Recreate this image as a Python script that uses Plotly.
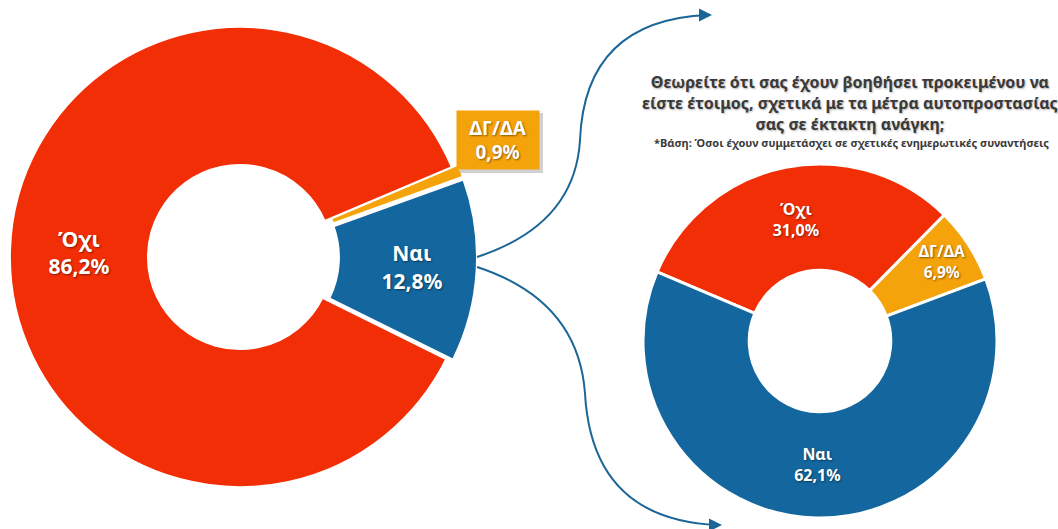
import plotly.graph_objects as go

# left donut: all respondents
main_labels = ['ΔΓ/ΔΑ', 'Ναι', 'Όχι']
main_values = [0.9, 12.8, 86.2]
main_colors = ['#F5A30A', '#13679E', '#F22E06']

# right donut: those who attended briefings
sub_labels = ['Όχι', 'ΔΓ/ΔΑ', 'Ναι']
sub_values = [31.0, 6.9, 62.1]
sub_colors = ['#F22E06', '#F5A30A', '#13679E']

title_lines = ['Θεωρείτε ότι σας έχουν βοηθήσει προκειμένου να',
               'είστε έτοιμος, σχετικά με τα μέτρα αυτοπροστασίας',
               'σας σε έκτακτη ανάγκη;']
base_note = '*Βάση: Όσοι έχουν συμμετάσχει σε σχετικές ενημερωτικές συναντήσεις'

W, H = 1058, 529
FONT = 'Noto Sans'
SHADOW = '1px 1px 2px rgba(0,0,0,0.45)'
ARROW = '#1B6697'


def fmt(v):
    return f'{v:.1f}'.replace('.', ',') + '%'


def dom(cx, cy, r, axis):
    if axis == 'x':
        return [max(0, (cx - r) / W), min(1, (cx + r) / W)]
    return [max(0, (H - cy - r) / H), min(1, (H - cy + r) / H)]


fig = go.Figure()

main_text = [f'{l}<br>{fmt(v)}' if v > 5 else '' for l, v in zip(main_labels, main_values)]
fig.add_trace(go.Pie(
    labels=main_labels, values=main_values, text=main_text,
    textinfo='text', sort=False, direction='clockwise', rotation=67,
    hole=0.4, pull=[0.03, 0.03, 0],
    marker=dict(colors=main_colors, line=dict(color='white', width=2)),
    textposition='inside', insidetextorientation='horizontal',
    textfont=dict(family=FONT, size=21, color='white', weight='bold', shadow=SHADOW),
    domain=dict(x=dom(240, 257, 237, 'x'), y=dom(240, 257, 237, 'y')),
    showlegend=False,
))

sub_text = [f'{l}<br>{fmt(v)}' for l, v in zip(sub_labels, sub_values)]
fig.add_trace(go.Pie(
    labels=sub_labels, values=sub_values, text=sub_text,
    textinfo='text', sort=False, direction='clockwise', rotation=-67,
    hole=0.4,
    marker=dict(colors=sub_colors, line=dict(color='white', width=3)),
    textposition='inside', insidetextorientation='horizontal',
    textfont=dict(family=FONT, size=16, color='white', weight='bold', shadow=SHADOW),
    domain=dict(x=dom(820, 341, 177, 'x'), y=dom(820, 341, 177, 'y')),
    showlegend=False,
))


def px(x, y):
    return f'{x / W:.4f},{1 - y / H:.4f}'


# connector arrows from the "Ναι" slice to the second chart
up_path = f'M {px(477, 257)} Q {px(575, 225)} {px(580, 140)} Q {px(585, 20)} {px(708, 15)}'
down_path = f'M {px(477, 267)} Q {px(578, 300)} {px(585, 393)} Q {px(592, 520)} {px(718, 525)}'
for p in (up_path, down_path):
    fig.add_shape(type='path', path=p, xref='paper', yref='paper',
                  line=dict(color=ARROW, width=2))
for tx, ty in ((712, 15), (722, 525)):
    fig.add_annotation(x=tx / W, y=1 - ty / H, xref='paper', yref='paper',
                       ax=-12, ay=0, text='', showarrow=True,
                       arrowhead=2, arrowsize=1.3, arrowwidth=2, arrowcolor=ARROW)

# callout box for the tiny slice
fig.add_shape(type='rect', xref='paper', yref='paper',
              x0=460 / W, x1=543 / W, y0=1 - 173 / H, y1=1 - 113 / H,
              fillcolor='rgba(0,0,0,0.18)', line=dict(width=0), layer='above')
fig.add_annotation(x=498 / W, y=1 - 140 / H, xref='paper', yref='paper',
                   xanchor='center', yanchor='middle',
                   text=f'{main_labels[0]}<br>{fmt(main_values[0])}', showarrow=False,
                   bgcolor=main_colors[0], width=78, height=54, borderpad=2,
                   font=dict(family=FONT, size=19, color='white', weight='bold', shadow=SHADOW))

fig.add_annotation(x=850 / W, y=1 - 103 / H, xref='paper', yref='paper',
                   xanchor='center', yanchor='middle',
                   text='<br>'.join(title_lines), showarrow=False, align='center',
                   font=dict(family=FONT, size=16, color='#3A3A3A', weight='bold',
                             shadow='1px 1px 2px rgba(0,0,0,0.3)'))
fig.add_annotation(x=851 / W, y=1 - 142 / H, xref='paper', yref='paper',
                   xanchor='center', yanchor='middle',
                   text=base_note, showarrow=False,
                   font=dict(family=FONT, size=11, color='#3A3A3A', weight='bold'))

fig.update_layout(
    width=W, height=H, margin=dict(l=0, r=0, t=0, b=0),
    paper_bgcolor='white', plot_bgcolor='white',
)

# drop the default page margin so figure pixels line up with the window
fig.write_html('out.html', config={'displayModeBar': False},
               post_script="document.body.style.margin='0';")
